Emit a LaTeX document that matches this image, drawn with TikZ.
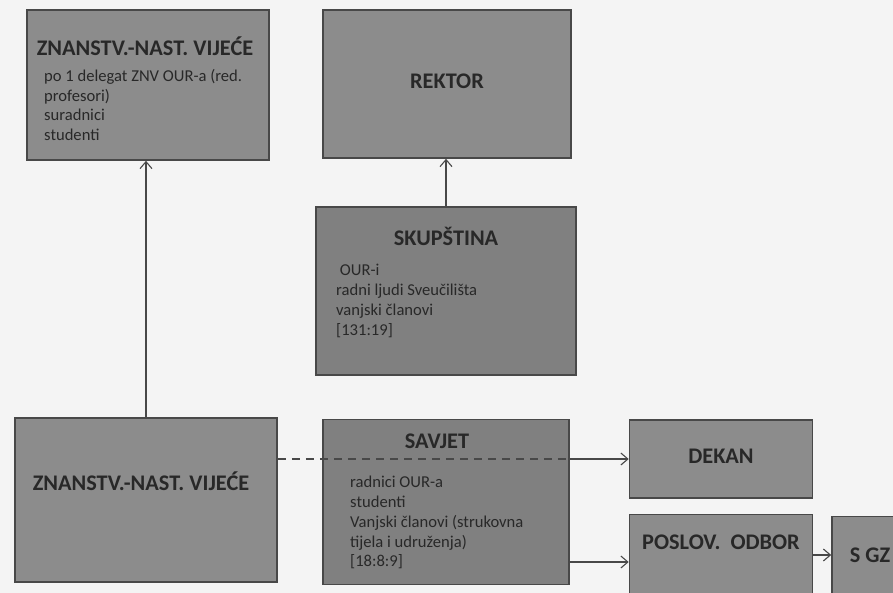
\documentclass[tikz,border=0pt]{standalone}
\usepackage{fontspec}
\setmainfont{Carlito}
\usepackage{tikz}
\usetikzlibrary{arrows.meta, positioning, calc}
\definecolor{boxgray}{RGB}{140,140,140}
\definecolor{boxdark}{RGB}{128,128,128}
\definecolor{edgegray}{RGB}{72,72,72}
\definecolor{inkgray}{RGB}{40,40,40}
\definecolor{paper}{RGB}{244,244,244}

\begin{document}
\begin{tikzpicture}[
    x=1pt, y=-1pt,
    box/.style={draw=edgegray, line width=1.6pt, fill=boxgray, inner sep=0pt},
    ttl/.style={text=inkgray, font=\fontsize{22.3}{26}\selectfont\bfseries, inner sep=0pt},
    txt/.style={text=inkgray, font=\fontsize{16.6}{19.8}\selectfont, align=left, anchor=north west, inner sep=0pt},
    link/.style={draw=edgegray, line width=1.1pt, -{Straight Barb[length=7pt, width=12pt]}}
]
    % page
    \fill[paper] (0,0) rectangle (893,593);
    \useasboundingbox (0,0) rectangle (893,593);

    % top row
    \node[box, minimum width=242pt, minimum height=150pt] (znv1) at (148,85) {};
    \node[ttl] (znv1t) at (145,46) {ZNANSTV.-NAST. VIJEĆE};
    \node[txt] (znv1b) at (44,69) {po 1 delegat ZNV OUR-a (red.\\profesori)\\suradnici\\studenti};

    \node[box, minimum width=248pt, minimum height=148pt] (rektor) at (447,84) {};
    \node[ttl] (rektort) at (447,81) {REKTOR};

    % skupstina
    \node[box, fill=boxdark, minimum width=260pt, minimum height=168pt] (skup) at (446,291) {};
    \node[ttl] (skupt) at (446,236) {SKUPŠTINA};
    \node[txt] (skupb) at (336,264) {\ OUR-i\\radni ljudi Sveučilišta\\vanjski članovi\\{[131:19]}};

    % bottom row
    \node[box, minimum width=262pt, minimum height=164pt] (znv2) at (146,500) {};
    \node[ttl] (znv2t) at (141,481) {ZNANSTV.-NAST. VIJEĆE};

    \node[box, fill=boxdark, minimum width=246pt, minimum height=165pt] (savjet) at (446,502) {};
    \node[ttl] (savjett) at (437,441) {SAVJET};
    \node[txt] (savjetb) at (350,476) {radnici OUR-a\\studenti\\Vanjski članovi (strukovna\\tijela i udruženja)\\{[18:8:9]}};

    \node[box, minimum width=183pt, minimum height=78pt] (dekan) at (721,459) {};
    \node[ttl] (dekant) at (721,456) {DEKAN};

    \node[box, minimum width=183pt, minimum height=85pt] (poslov) at (721,557) {};
    \node[ttl] (poslovt) at (721,542) {POSLOV.\ \ ODBOR};

    \node[box, minimum width=88pt, minimum height=103pt] (sgz) at (876,568) {};
    \node[ttl] (sgzt) at (870,555) {S GZ};

    % connections
    \draw[link] (znv2.north) -- (znv2.north |- znv1.south);
    \draw[link] (skup.north) -- (skup.north |- rektor.south);
    \draw[draw=edgegray, line width=1.1pt, dash pattern=on 8pt off 6pt] (znv2.east |- dekan.west) -- (savjet.east |- dekan.west);
    \draw[link] (savjet.east |- dekan.west) -- (dekan.west);
    \draw[link] ([yshift=-5pt]savjet.east |- poslov.west) -- ([yshift=-5pt]poslov.west);
    \draw[link] ([yshift=2pt]poslov.east) -- ([yshift=2pt]poslov.east -| sgz.west);
\end{tikzpicture}
\end{document}
